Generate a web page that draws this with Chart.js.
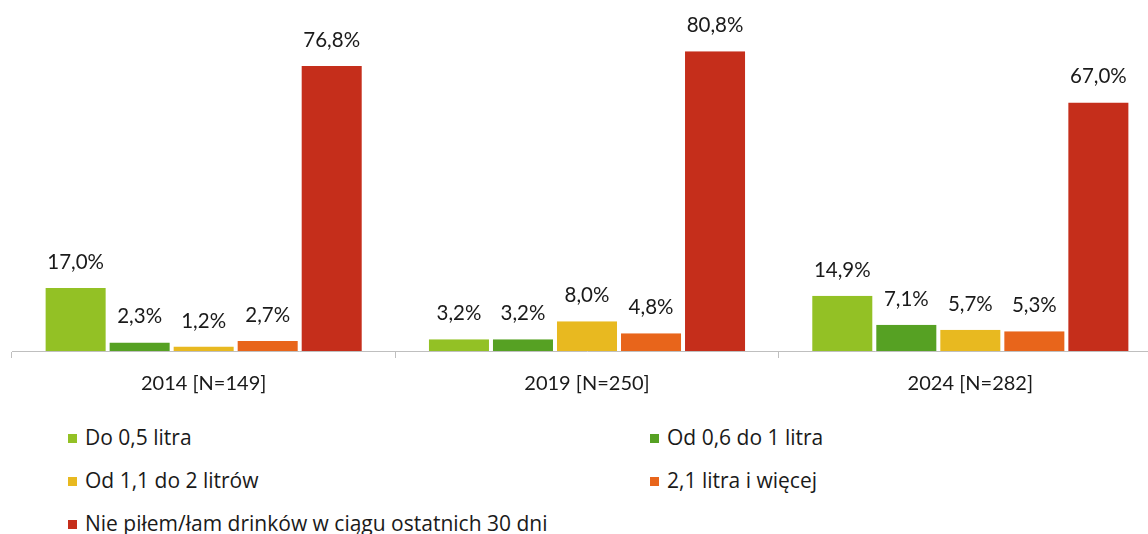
<!DOCTYPE html>
<html><head><meta charset="utf-8">
<script src="https://cdn.jsdelivr.net/npm/chart.js@4"></script>
<style>
html,body{margin:0;padding:0;background:#fff;overflow:hidden;}
#wrap{position:relative;width:1148px;height:534px;overflow:hidden;}
#c{position:absolute;left:0;top:0;}
.lg{position:absolute;font-family:"Open Sans", Lato, sans-serif;font-size:21px;color:#1a1a1a;white-space:nowrap;line-height:22px;}
.lg span.m{display:inline-block;width:9px;height:9px;margin-right:8px;vertical-align:2px;}
</style></head>
<body><div id="wrap"><canvas id="c" width="1165" height="410"></canvas><div id="legend"></div></div>
<script>
const categories = ["2014 [N=149]", "2019 [N=250]", "2024 [N=282]"];
const seriesNames = ["Do 0,5 litra", "Od 0,6 do 1 litra", "Od 1,1 do 2 litrów", "2,1 litra i więcej", "Nie piłem/łam drinków w ciągu ostatnich 30 dni"];
const s1 = [17.0, 3.2, 14.9];
const s2 = [2.3, 3.2, 7.1];
const s3 = [1.2, 8.0, 5.7];
const s4 = [2.7, 4.8, 5.3];
const s5 = [76.8, 80.8, 67.0];
const colors = ["#93c125", "#56a123", "#e8b920", "#e8651b", "#c52e1b"];
const values = [s1, s2, s3, s4, s5];

const FONT = 'Lato, "Open Sans", sans-serif';

const labelPlugin = {
  id: 'valueLabels',
  afterDatasetsDraw(chart) {
    const ctx = chart.ctx;
    ctx.save();
    ctx.font = '20.5px ' + FONT;
    ctx.fillStyle = '#1a1a1a';
    ctx.textAlign = 'center';
    ctx.textBaseline = 'alphabetic';
    chart.data.datasets.forEach((ds, i) => {
      const meta = chart.getDatasetMeta(i);
      meta.data.forEach((bar, j) => {
        const v = ds.data[j];
        const txt = v.toFixed(1).replace('.', ',') + '%';
        ctx.fillText(txt, bar.x, bar.y - 19);
      });
    });
    ctx.restore();
  }
};

new Chart(document.getElementById('c'), {
  type: 'bar',
  data: {
    labels: categories,
    datasets: values.map((v, i) => ({
      label: seriesNames[i],
      data: v,
      backgroundColor: colors[i],
      borderColor: '#ffffff',
      borderWidth: {left: 2, right: 2, top: 0, bottom: 0},
      borderSkipped: false,
      barPercentage: 1.0,
      categoryPercentage: 0.835
    }))
  },
  options: {
    responsive: false,
    animation: false,
    devicePixelRatio: 1,
    layout: {padding: {left: 12, right: 3, top: 0, bottom: 0}},
    plugins: {legend: {display: false}, tooltip: {enabled: false}},
    scales: {
      x: {
        grid: {display: true, drawOnChartArea: false, offset: true, color: '#bfbfbf', tickLength: 7, tickColor: '#bfbfbf'},
        border: {display: true, color: '#bfbfbf', width: 1},
        ticks: {color: '#1a1a1a', font: {family: FONT, size: 20}, padding: 14}
      },
      y: {display: false, min: 0, max: 94.6}
    }
  },
  plugins: [labelPlugin]
});

const legend = document.getElementById('legend');
const pos = [[68, 426], [650, 426], [68, 469], [650, 469], [68, 512]];
seriesNames.forEach((n, i) => {
  const d = document.createElement('div');
  d.className = 'lg';
  d.style.left = pos[i][0] + 'px';
  d.style.top = pos[i][1] + 'px';
  d.innerHTML = '<span class="m" style="background:' + colors[i] + '"></span>' + n;
  legend.appendChild(d);
});
</script></body></html>
